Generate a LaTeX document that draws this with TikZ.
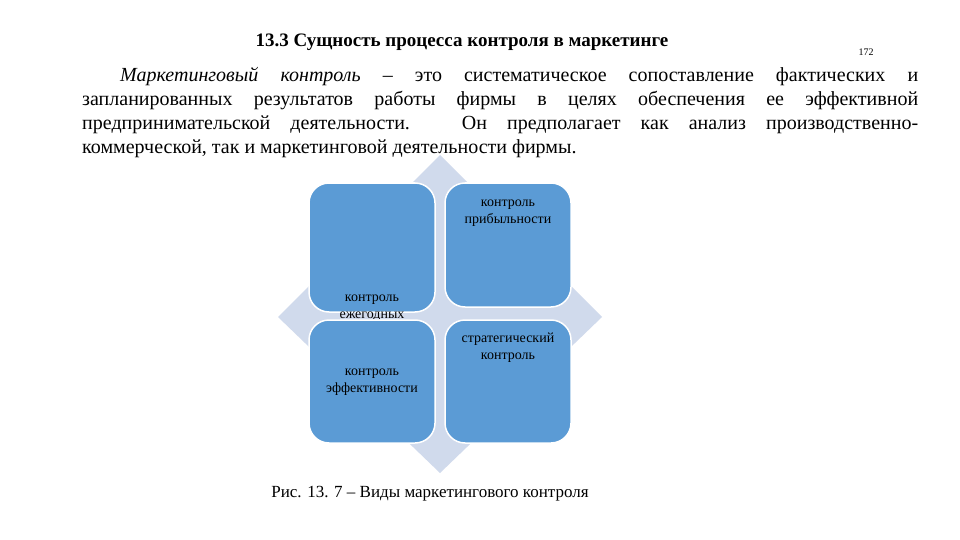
\documentclass[tikz,border=0pt]{standalone}
\usepackage{fontspec}
\setmainfont{Liberation Serif}
\begin{document}
\begin{tikzpicture}[x=1pt,y=-1pt,
  box/.style={fill=boxblue,draw=white,line width=1.5pt,rounded corners=20pt},
  lbl/.style={font=\fontsize{14}{17}\selectfont,align=center,text=black}]
\definecolor{boxblue}{HTML}{5B9BD5}
\definecolor{dia}{HTML}{D0DAEC}
\useasboundingbox (0,0) rectangle (960,540);
\fill[white] (0,0) rectangle (960,540);
\node[font=\bfseries\fontsize{19}{23}\selectfont] (title) at (462,42) {13.3 Сущность процесса контроля в маркетинге};
\node[font=\fontsize{10}{12}\selectfont] (pg) at (866,52) {172};
\node[anchor=north west,inner sep=0pt,text width=836pt,align=justify,font=\fontsize{20}{24}\selectfont] (para) at (82,67)
 {\hspace*{38pt}\textit{Маркетинговый контроль} -- это систематическое сопоставление фактических и\linebreak запланированных результатов работы фирмы в целях обеспечения ее эффективной\linebreak предпринимательской деятельности. Он предполагает как анализ производственно-\linebreak коммерческой, так и маркетинговой деятельности фирмы.};
\fill[dia] (440,155) -- (602,317) -- (440,473) -- (278,317) -- cycle;
\node[draw=none,inner sep=0pt] (diam) at (440,317) {};
\draw[box] (309,183) rectangle (435,312);
\node (tl) at (372,247) {};
\draw[box] (445,183) rectangle (571,307);
\node[lbl] (tr) at (508,213) {контроль\\прибыльности};
\begin{scope}
\clip (300,280) rectangle (440,318);
\node[lbl] (tlt) at (372,308) {контроль\\ежегодных};
\end{scope}
\draw[box] (309,320) rectangle (435,443);
\node[lbl] (bl) at (372,382) {контроль\\эффективности};
\draw[box] (445,320) rectangle (571,443);
\node[lbl] (br) at (508,348) {стратегический\\контроль};
\node[font=\fontsize{17}{20}\selectfont] (cap) at (430,494) {Рис. 13. 7 -- Виды маркетингового контроля};
\end{tikzpicture}
\end{document}
